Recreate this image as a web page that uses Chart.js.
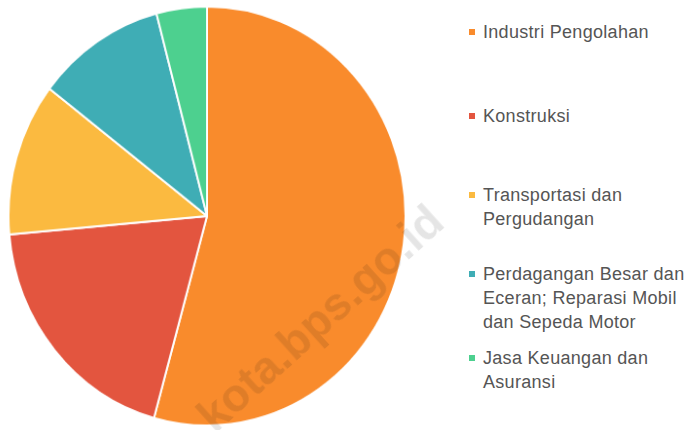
<!DOCTYPE html>
<html>
<head>
    <title>Distribusi Sektor</title>
    <script src="https://cdn.jsdelivr.net/npm/chart.js"></script>
    <style>
        body { margin: 0; background: #fff; width: 693px; height: 430px; overflow: hidden; position: relative; font-family: "Liberation Sans", Arial, sans-serif; }
        /* gambar asli sedikit lonjong, jadi diregangkan sedikit */
        #wrap { position: absolute; left: 0; top: 0; width: 416px; height: 430px; transform-origin: 207px 216px; transform: scale(0.973, 1.027); }
        .item { position: absolute; left: 469px; font-size: 18px; line-height: 24px; color: #555; letter-spacing: 0.3px; white-space: nowrap; }
        .item .box { position: absolute; left: 0; top: 9px; width: 6px; height: 6px; }
        .item .txt { margin-left: 14px; }
        #wm { position: absolute; left: 320px; top: 318px; transform: translate(-50%, -50%) rotate(-42deg); font: bold 46px "Liberation Sans", Arial, sans-serif; color: rgba(0,0,0,0.1); white-space: nowrap; pointer-events: none; }
    </style>
</head>
<body>
    <div id="wrap"><canvas id="pieChart"></canvas></div>
    <div id="legend"></div>
    <div id="wm">kota.bps.go.id</div>

    <script>
        // Kategori (baris label legenda)
        var categories = [
            ["Industri Pengolahan"],
            ["Konstruksi"],
            ["Transportasi dan", "Pergudangan"],
            ["Perdagangan Besar dan", "Eceran; Reparasi Mobil", "dan Sepeda Motor"],
            ["Jasa Keuangan dan", "Asuransi"]
        ];
        // Nilai perkiraan (persen)
        var values = [54.3, 19.3, 11.8, 10.5, 4.1];
        var colors = ["#F98B2C", "#E3553F", "#FBBA40", "#3FADB5", "#4DD08F"];
        var legendTops = [20, 104, 183, 262, 346];

        var ctx = document.getElementById("pieChart").getContext("2d");

        var chart = new Chart(ctx, {
            type: "pie",
            data: {
                labels: categories.map(c => c.join(" ")),
                datasets: [{
                    data: values,
                    backgroundColor: colors,
                    borderColor: "#ffffff",
                    borderWidth: 2
                }]
            },
            options: {
                responsive: true,
                maintainAspectRatio: false,
                animation: false,
                layout: { padding: { left: 2, right: 4, top: 11, bottom: 9 } },
                plugins: {
                    legend: { display: false },
                    tooltip: { enabled: false }
                }
            }
        });

        // Legenda di kanan
        var legend = document.getElementById("legend");
        categories.forEach(function(lines, i) {
            var div = document.createElement("div");
            div.className = "item";
            div.style.top = legendTops[i] + "px";
            div.innerHTML = '<span class="box" style="background:' + colors[i] + '"></span><div class="txt">' + lines.join("<br>") + '</div>';
            legend.appendChild(div);
        });
    </script>
</body>
</html>
